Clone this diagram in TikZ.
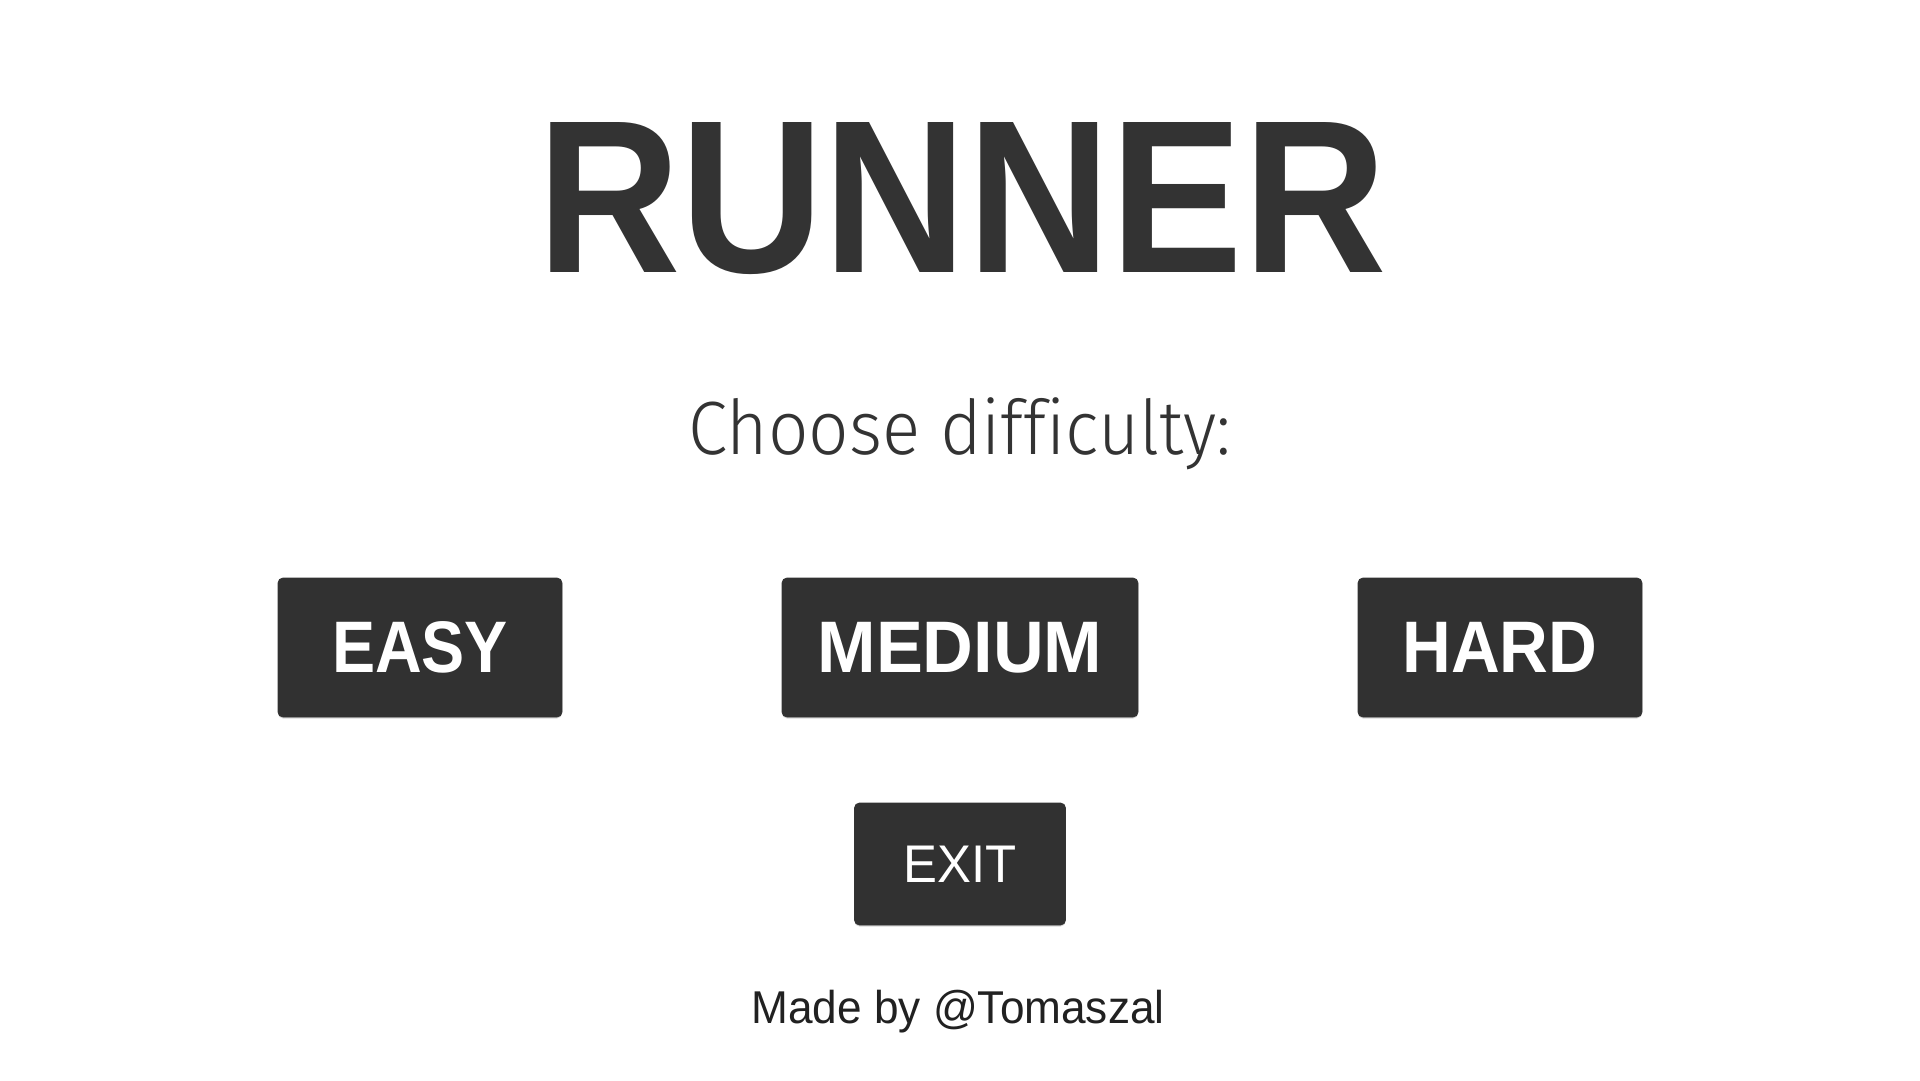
\documentclass[tikz,border=0pt]{standalone}
\usepackage{fontspec}
\setmainfont{Liberation Sans}
\newfontfamily\lightfont[Ligatures=NoCommon]{Fira Sans Light}
\usepackage{graphicx}
\usetikzlibrary{shadows}
\definecolor{menugray}{HTML}{333333}
\definecolor{btngray}{HTML}{313131}
\definecolor{footgray}{HTML}{212121}
\newcommand{\fitw}[2]{\resizebox{#1}{\height}{#2}}
\tikzset{
  btn/.style={fill=btngray, draw=black!80, line width=0.8pt, rounded corners=5pt,
    inner sep=0pt, text=white,
    drop shadow={shadow xshift=0pt, shadow yshift=-1.5pt, opacity=0.3}},
  levelbtn/.style={btn, minimum width=284pt, minimum height=139pt,
    font=\fontsize{73}{80}\bfseries},
}
\begin{document}
\begin{tikzpicture}[x=1pt,y=-1pt]
	\useasboundingbox[fill=white] (0,0) rectangle (1920,1080);
	% title and subtitle
	\node[anchor=base, inner sep=0pt, text=menugray, font=\fontsize{218}{220}\bfseries] (title) at (962,272) {\fitw{850pt}{RUNNER}};
	\node[anchor=base, inner sep=0pt, text=menugray, font=\fontsize{75.5}{80}\lightfont] (choose) at (960,454) {\fitw{543pt}{Choose difficulty:}};
	% difficulty buttons
	\node[levelbtn] (easy) at (420,647.5) {\fitw{176pt}{EASY}};
	\node[levelbtn, minimum width=356pt] (medium) at (960,647.5) {\fitw{285pt}{MEDIUM}};
	\node[levelbtn] (hard) at (1500,647.5) {\fitw{195pt}{HARD}};
	\node[btn, minimum width=211pt, minimum height=122pt, font=\fontsize{53}{60}\selectfont] (exit) at (960,864) {\fitw{113pt}{EXIT}};
	% footer
	\node[anchor=base, inner sep=0pt, text=footgray, font=\fontsize{46}{50}\selectfont] (credits) at (958,1023) {\fitw{413pt}{Made by @Tomaszal}};
\end{tikzpicture}
\end{document}
